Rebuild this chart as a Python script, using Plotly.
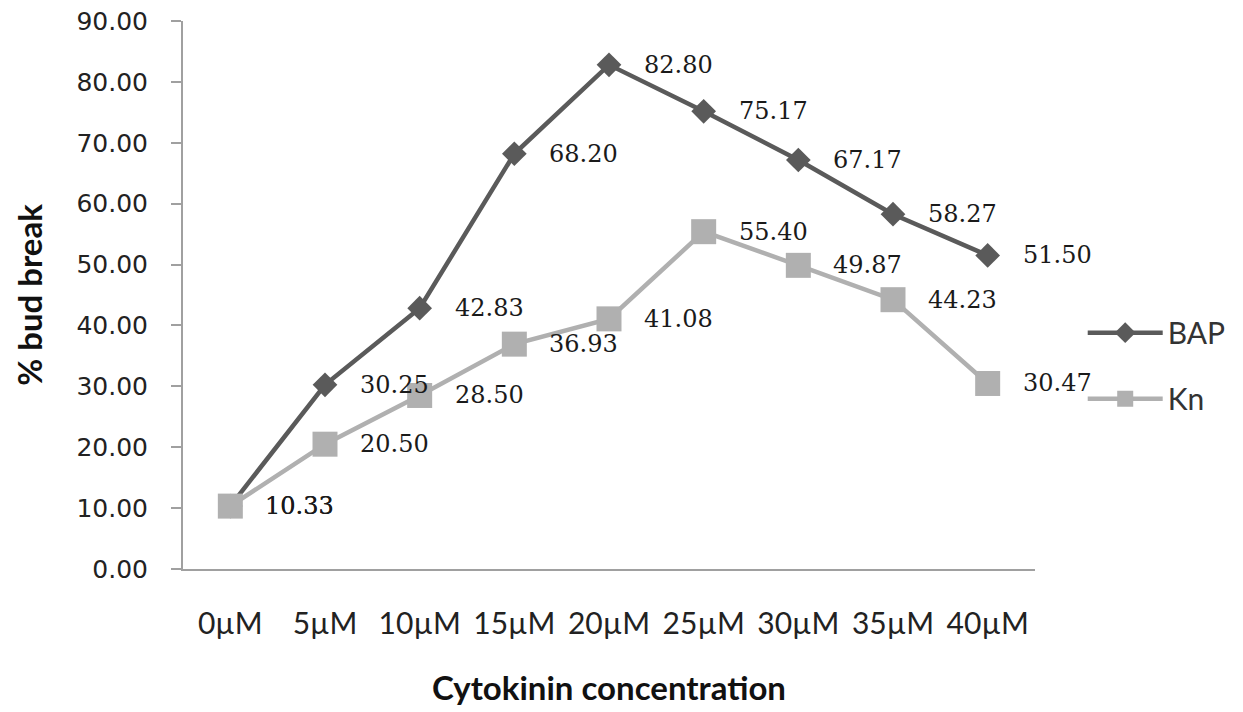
import plotly.graph_objects as go

categories = ["0µM", "5µM", "10µM", "15µM", "20µM", "25µM", "30µM", "35µM", "40µM"]
bap = [10.33, 30.25, 42.83, 68.20, 82.80, 75.17, 67.17, 58.27, 51.50]
kn = [10.33, 20.50, 28.50, 36.93, 41.08, 55.40, 49.87, 44.23, 30.47]
y_ticks = [0, 10, 20, 30, 40, 50, 60, 70, 80, 90]

BAP_COLOR = "#5a5a5a"
KN_COLOR = "#b0b0b0"
x_idx = list(range(len(categories)))

fig = go.Figure()
fig.add_trace(go.Scatter(
    x=x_idx, y=bap, name="BAP", mode="lines+markers",
    line=dict(color=BAP_COLOR, width=4.5),
    marker=dict(symbol="diamond", size=19, color=BAP_COLOR),
    legendgroup="bap",
))
fig.add_trace(go.Scatter(
    x=x_idx, y=kn, name="Kn", mode="lines+markers",
    line=dict(color=KN_COLOR, width=4.5),
    marker=dict(symbol="square", size=25, color=KN_COLOR),
    legendgroup="kn",
))

label_font = dict(family="DejaVu Serif", size=24, color="#1a1a1a")
for series in (bap, kn):
    for xi, v in zip(x_idx, series):
        fig.add_annotation(
            x=xi, y=v, text=f"{v:.2f}", showarrow=False,
            xanchor="left", yanchor="middle", xshift=33,
            font=label_font,
        )

fig.update_layout(
    width=1243, height=712,
    margin=dict(l=183, r=203, t=21, b=143),
    paper_bgcolor="white", plot_bgcolor="white",
    legend=dict(
        x=1.056, y=0.371, xanchor="left", yanchor="middle",
        font=dict(family="Lato", size=30, color="#333333"),
        tracegroupgap=24, itemwidth=75,
    ),
    xaxis=dict(
        range=[-0.5, 8.5], tickmode="array", tickvals=x_idx, ticktext=categories,
        showline=True, linecolor="#a0a0a0", linewidth=2,
        ticks="", showgrid=False, zeroline=False, automargin=False,
        tickfont=dict(family="Lato", size=30, color="#222222"),
        ticklabelstandoff=27,
        title=dict(text="<b>Cytokinin concentration</b>", standoff=38,
                   font=dict(family="Lato", size=33, color="#111111")),
    ),
    yaxis=dict(
        range=[0, 90], tickmode="array", tickvals=y_ticks,
        ticktext=[f"{t:.2f}" for t in y_ticks],
        showline=True, linecolor="#a0a0a0", linewidth=2,
        ticks="outside", ticklen=10, tickcolor="#a0a0a0", tickwidth=2,
        showgrid=False, zeroline=False, automargin=False,
        tickfont=dict(family="DejaVu Sans", size=25, color="#222222"),
        ticklabelstandoff=18,
        title=dict(text="<b>% bud break</b>", standoff=24,
                   font=dict(family="Lato", size=33, color="#111111")),
    ),
)

fig.write_html("out.html")
